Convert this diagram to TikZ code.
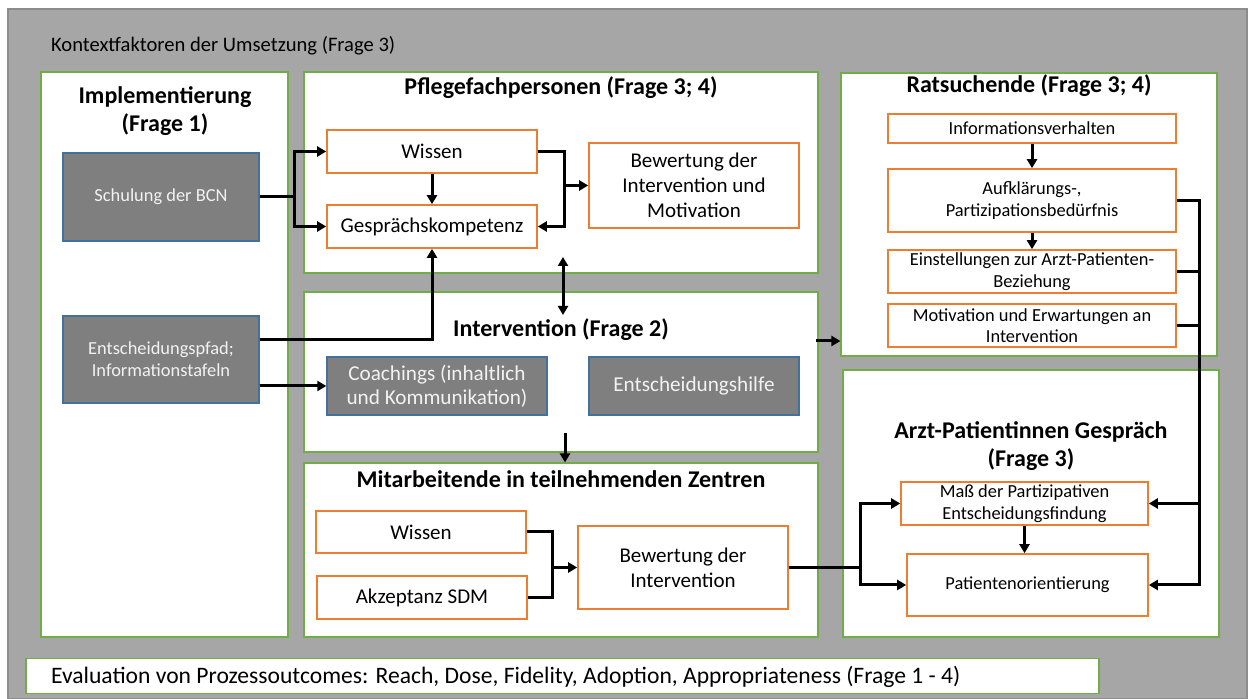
\documentclass[tikz,border=0pt]{standalone}
\usepackage{fontspec}
\setmainfont{Carlito}
\usetikzlibrary{shapes}
\usetikzlibrary{arrows.meta}

\definecolor{bggray}{HTML}{A6A6A6}
\definecolor{bgline}{HTML}{8C8C8C}
\definecolor{pgreen}{HTML}{70AD47}
\definecolor{porange}{HTML}{ED7D31}
\definecolor{pdark}{HTML}{7F7F7F}
\definecolor{pblue}{HTML}{41719C}
\definecolor{plight}{HTML}{F2F2F2}

\begin{document}
\begin{tikzpicture}[x=0.5pt,y=-0.5pt]
	\tikzstyle{panel}=[rectangle,draw=pgreen,fill=white,line width=0.6pt,inner sep=0pt]
	\tikzstyle{ptitle}=[font=\fontsize{12}{14}\selectfont\bfseries,align=center]
	\tikzstyle{obox}=[rectangle,draw=porange,fill=white,line width=0.8pt,align=center,inner sep=0pt,font=\fontsize{10.5}{12.5}\selectfont]
	\tikzstyle{sbox}=[obox,font=\fontsize{9.2}{10.8}\selectfont]
	\tikzstyle{gbox}=[rectangle,draw=pblue,fill=pdark,text=plight,line width=0.7pt,align=center,inner sep=0pt,font=\fontsize{9.2}{11}\selectfont]
	\tikzstyle{conn}=[line width=1.5pt,-{Triangle[length=4.5pt,width=5pt]}]
	\tikzstyle{line}=[line width=1.5pt]
	\useasboundingbox (0,0) rectangle (1248,699);
	\draw[fill=bggray,draw=bgline,line width=0.6pt] (8,9) rectangle (1247,699);
	\node[anchor=west,font=\fontsize{10.3}{12}\selectfont] (kontext) at (44,46) {Kontextfaktoren der Umsetzung (Frage 3)};

	% Panels
	\node[panel,minimum width=123.5pt,minimum height=282.5pt] (impl) at (164.5,354.5) {};
	\node[panel,minimum width=257pt,minimum height=100.5pt] (pflege) at (561,172.5) {};
	\node[panel,minimum width=257pt,minimum height=80pt] (interv) at (561,372) {};
	\node[panel,minimum width=257pt,minimum height=87pt] (mitarb) at (561,550) {};
	\node[panel,minimum width=188pt,minimum height=141.5pt] (rat) at (1029,214.5) {};
	\node[panel,minimum width=188pt,minimum height=133.5pt] (arzt) at (1031,503.5) {};
	\node[panel,minimum width=536.5pt,minimum height=17.5pt] (evalbar) at (562.5,676) {};

	% Titles
	\node[ptitle] (implt) at (165,111) {Implementierung\\(Frage 1)};
	\node[ptitle] (pflegt) at (561,88) {Pflegefachpersonen (Frage 3; 4)};
	\node[ptitle] (intervt) at (561,330) {Intervention (Frage 2)};
	\node[ptitle] (mitarbt) at (561,479) {Mitarbeitende in teilnehmenden Zentren};
	\node[ptitle] (ratt) at (1029,86) {Ratsuchende (Frage 3; 4)};
	\node[ptitle] (arztt) at (1031,446) {Arzt-Patientinnen Gespräch\\(Frage 3)};
	\node[anchor=west,font=\fontsize{11.8}{13}\selectfont] (evaltxt) at (44,677) {Evaluation von Prozessoutcomes: Reach, Dose, Fidelity, Adoption, Appropriateness (Frage 1 - 4)};

	% Implementierung
	\node[gbox,minimum width=98pt,minimum height=44pt] (schul) at (161,197) {Schulung der BCN};
	\node[gbox,minimum width=98pt,minimum height=43.5pt] (entsch) at (161,359.5) {Entscheidungspfad;\\Informationstafeln};

	% Pflegefachpersonen
	\node[obox,minimum width=105pt,minimum height=21.5pt] (wissen) at (432,151.5) {Wissen};
	\node[obox,minimum width=105pt,minimum height=21.5pt] (gespr) at (432,226.5) {Gesprächskompetenz};
	\node[obox,minimum width=105pt,minimum height=42.5pt] (bewpfl) at (694,185.5) {Bewertung der\\Intervention und\\Motivation};

	% Intervention
	\node[gbox,font=\fontsize{10.6}{12}\selectfont,minimum width=110pt,minimum height=29pt] (coach) at (437,386) {Coachings (inhaltlich\\und Kommunikation)};
	\node[gbox,font=\fontsize{10.6}{12}\selectfont,minimum width=105pt,minimum height=29pt] (hilfe) at (694,386) {Entscheidungshilfe};

	% Mitarbeitende
	\node[obox,minimum width=105pt,minimum height=21pt] (mwissen) at (421,532) {Wissen};
	\node[obox,minimum width=105pt,minimum height=21.5pt] (makz) at (422,597.5) {Akzeptanz SDM};
	\node[obox,minimum width=105pt,minimum height=41.5pt] (mbew) at (683,567.5) {Bewertung der\\Intervention};

	% Ratsuchende
	\node[sbox,minimum width=144pt,minimum height=14.5pt] (info) at (1032,128.5) {Informationsverhalten};
	\node[sbox,minimum width=144pt,minimum height=31.5pt] (aufkl) at (1032,200.5) {Aufklärungs-,\\Partizipationsbedürfnis};
	\node[sbox,minimum width=144pt,minimum height=21.5pt] (einst) at (1032,271.5) {Einstellungen zur Arzt-Patienten-\\Beziehung};
	\node[sbox,minimum width=144pt,minimum height=21.5pt] (motiv) at (1032,325.5) {Motivation und Erwartungen an\\Intervention};

	% Arzt-Patientinnen Gespraech
	\node[sbox,font=\fontsize{9.2}{11}\selectfont,minimum width=123.5pt,minimum height=21.5pt] (mass) at (1024.5,503.5) {Maß der Partizipativen\\Entscheidungsfindung};
	\node[sbox,minimum width=120.5pt,minimum height=31pt] (pat) at (1027.5,585) {Patientenorientierung};

	% Verbindungen
	\coordinate (pj) at (564,185.5);
	\coordinate (mj) at (552,567.5);
	\coordinate (pi1) at (563,257);
	\coordinate (pi2) at (563,315);
	\coordinate (im) at (565,433);
	\coordinate (ir) at (816,341);

	\draw[conn] (schul.east) -- ++(35,0) |- (wissen.west);
	\draw[conn] (schul.east) -- ++(35,0) |- (gespr.west);
	\draw[conn] (wissen) -- (gespr);
	\draw[conn] (wissen.east) -| (pj) |- (gespr.east);
	\draw[conn] (pj) -- (bewpfl.west);
	\draw[conn] ([yshift=9.75pt]entsch.east) -| (gespr.south);
	\draw[conn] (entsch.east |- coach.west) -- (coach.west);
	\draw[line width=1.5pt,{Triangle[length=4.5pt,width=5pt]}-{Triangle[length=4.5pt,width=5pt]}] (pi1) -- (pi2);
	\draw[conn] (im) -- (im |- mitarb.north);
	\draw[conn] (ir) -- (ir -| rat.west);

	\draw[line] (mwissen.east) -| (mj);
	\draw[line] (makz.east) -| (mj);
	\draw[conn] (mj) -- (mbew.west);
	\draw[conn] (mbew.east) -- ++(72,0) |- (mass.west);
	\draw[conn] (mbew.east) -- ++(72,0) |- (pat.west);
	\draw[conn] (mass.south) -- (mass.south |- pat.north);

	\draw[conn] (info) -- (aufkl);
	\draw[conn] (aufkl) -- (einst);
	\draw[conn] (aufkl.east) -- ++(23,0) |- (mass.east);
	\draw[conn] (aufkl.east) -- ++(23,0) |- (pat.east);
	\draw[line] (einst.east) -- ++(23,0);
	\draw[line] (motiv.east) -- ++(23,0);
\end{tikzpicture}
\end{document}
